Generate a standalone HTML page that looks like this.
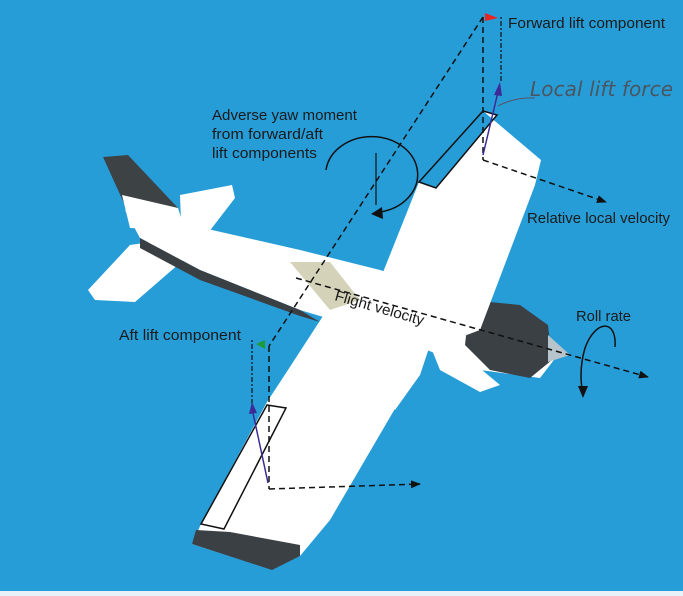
<!DOCTYPE html>
<html><head><meta charset="utf-8"><style>
html,body{margin:0;padding:0;background:#279dd8;}
svg{display:block}
text{font-family:"Liberation Sans",sans-serif;fill:#1a1a1a}
</style></head><body>
<svg width="683" height="596" viewBox="0 0 683 596" xmlns="http://www.w3.org/2000/svg">
<rect width="683" height="596" fill="#279dd8"/>
<rect y="591" width="683" height="5" fill="#e8f2f8"/>
<defs>
<marker id="ah" markerWidth="10" markerHeight="8" refX="9" refY="4" orient="auto" markerUnits="userSpaceOnUse"><path d="M0,0 L10,4 L0,8 Z" fill="#111"/></marker>
</defs>
<!-- tail -->
<path d="M103,157 L128,155 L178,208 L128,212 Z" fill="#3d4245"/>
<path d="M122,195 L178,208 L185,230 L130,228 Z" fill="#fff"/>
<path d="M180,195 L232,185 L235,198 L195,250 L182,248 Z" fill="#fff"/>
<path d="M88,290 L130,245 L165,240 L195,250 L135,302 L95,300 Z" fill="#fff"/>
<!-- fuselage -->
<path d="M125,210 L190,225 L300,250 L380,270 L470,300 L540,325 L560,352 L540,378 L480,370 L400,340 L300,310 L200,270 L140,238 Z" fill="#fff"/>
<path d="M140,238 L200,270 L300,310 L320,322 L300,316 L200,280 L140,248 Z" fill="#3a3f43"/>
<path d="M290,262 L330,262 L360,300 L330,310 Z" fill="#c9c8a8" opacity="0.8"/>
<!-- cowling / engine -->
<path d="M470,300 L520,305 L548,325 L552,360 L530,378 L490,370 L465,345 Z" fill="#3b4044"/>
<path d="M548,335 L570,355 L548,362 Z" fill="#b8c4cc"/>
<path d="M430,345 L470,360 L500,385 L480,392 L440,370 Z" fill="#fff"/>
<path d="M400,360 L430,345 L420,375 L395,410 L390,400 Z" fill="#fff"/>
<path d="M430,280 L470,295 L465,330 L440,335 L425,300 Z" fill="#6b8a55" opacity="0.8"/>
<!-- upper wing -->
<path d="M483,111 L541,160 L535,185 L480,330 L440,345 L360,330 L419,182 L436,188 L497,115 Z" fill="#fff"/>
<!-- lower wing -->
<path d="M323,316 L436,329 L400,400 L330,520 L300,556 L270,569 L192,544 L201,524 L267,402 L286,373 Z" fill="#fff"/>
<path d="M196,530 L230,532 L300,545 L300,556 L272,570 L192,544 Z" fill="#3b4044"/>
<!-- ailerons -->
<path d="M483,111 L497,115 L436,188 L419,182 Z" fill="none" stroke="#111" stroke-width="1.5"/>
<path d="M267,405 L286,408 L224,529 L201,524 Z" fill="none" stroke="#111" stroke-width="1.5"/>
<!-- dashed lines -->
<g stroke="#111" stroke-width="1.5" fill="none" stroke-dasharray="6,4">
<line x1="483" y1="17" x2="269" y2="346"/>
<line x1="483" y1="17" x2="483" y2="160"/>
<line x1="269" y1="346" x2="269" y2="489"/>
<line x1="269" y1="489" x2="420" y2="484" marker-end="url(#ah)"/>
<line x1="483" y1="160" x2="606" y2="202" marker-end="url(#ah)"/>
<line x1="296" y1="278" x2="648" y2="377" marker-end="url(#ah)"/>
</g>
<g stroke="#111" stroke-width="1.2" fill="none" stroke-dasharray="2,2,5,2">
<line x1="501" y1="17" x2="501" y2="82"/>
<line x1="252" y1="340" x2="252" y2="404"/>
</g>
<path d="M485,13 L498,18 L485,21 Z" fill="#e8251e"/>
<path d="M265,340 L256,344 L265,349 Z" fill="#1f9a3a"/>
<!-- purple lift -->
<g stroke="#3c2a96" stroke-width="1.5">
<line x1="483" y1="155" x2="498" y2="92"/>
<line x1="268" y1="483" x2="253" y2="413"/>
</g>
<path d="M500,82 L494,95 L502,96 Z" fill="#3c2a96"/>
<path d="M252,402 L249,414 L257,413 Z" fill="#3c2a96"/>
<path d="M498,106 Q515,97 535,98" stroke="#556" stroke-width="1" fill="none"/>
<!-- yaw arc -->
<path d="M326,170 A46,38 0 1 1 380,212" stroke="#111" stroke-width="1.5" fill="none"/>
<path d="M371,214 L382,207 L383,219 Z" fill="#111"/>
<line x1="376" y1="153" x2="376" y2="205" stroke="#111" stroke-width="1.2"/>
<!-- roll arc -->
<path d="M615,347 C617,318 595,320 585,348 C580,365 580,380 583,395" stroke="#111" stroke-width="1.5" fill="none"/>
<path d="M578,386 L583,398 L588,386 Z" fill="#111"/>
<!-- labels -->
<text x="508" y="28" font-size="15" textLength="157" lengthAdjust="spacingAndGlyphs">Forward lift component</text>
<text x="530" y="96" font-size="20" style="font-family:'DejaVu Sans',sans-serif;fill:#4a5560;font-weight:200" font-style="italic" textLength="143">Local lift force</text>
<text x="212" y="120" font-size="15" textLength="145" lengthAdjust="spacingAndGlyphs">Adverse yaw moment</text>
<text x="212" y="139" font-size="15" textLength="111" lengthAdjust="spacingAndGlyphs">from forward/aft</text>
<text x="212" y="158" font-size="15" textLength="105" lengthAdjust="spacingAndGlyphs">lift components</text>
<text x="527" y="223" font-size="15" textLength="143" lengthAdjust="spacingAndGlyphs">Relative local velocity</text>
<text x="119" y="340" font-size="15" textLength="122" lengthAdjust="spacingAndGlyphs">Aft lift component</text>
<text x="576" y="321" font-size="15" textLength="55" lengthAdjust="spacingAndGlyphs">Roll rate</text>
<text x="334" y="300" font-size="15" transform="rotate(16 334 300)" textLength="92" lengthAdjust="spacingAndGlyphs">Flight velocity</text>
</svg>
</body></html>
